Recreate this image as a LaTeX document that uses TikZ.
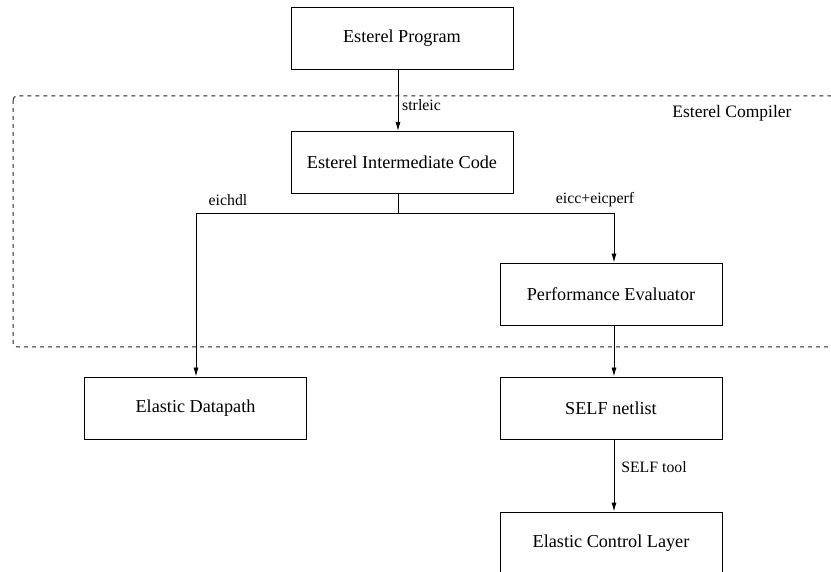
\documentclass[tikz,border=0pt]{standalone}
\usepackage{fontspec}
\setmainfont{Liberation Serif}
\usetikzlibrary{arrows.meta,calc}
\tikzset{
  boxnode/.style={draw, line width=0.9pt, minimum width=222pt, minimum height=62pt, inner sep=0pt, font=\fontsize{18.2}{21}\selectfont},
  lbl/.style={inner sep=0pt, font=\fontsize{15.8}{18}\selectfont},
  conn/.style={line width=0.9pt, -{Latex[length=9pt,width=5pt]}},
  plain/.style={line width=0.9pt},
  region/.style={dash pattern=on 4pt off 4pt, line width=1pt, draw=black!85, rounded corners=4pt}
}
\begin{document}
\begin{tikzpicture}[x=1pt,y=-1pt]
\clip (0,0) rectangle (831,572);
\useasboundingbox (0,0) rectangle (831,572);
\draw[region] (13,96) rectangle (860,347);
\node[inner sep=0pt, font=\fontsize{17.5}{20}\selectfont] (cmp) at (732,113) {Esterel Compiler};
\node[boxnode] (ep) at (402,38.5) {Esterel Program};
\node[boxnode] (eic) at (402,162.5) {Esterel Intermediate Code};
\node[boxnode] (pe) at (611,294) {Performance Evaluator};
\node[boxnode] (ed) at (195.5,408) {Elastic Datapath};
\node[boxnode] (sn) at (611,408) {SELF netlist};
\node[boxnode] (ecl) at (611,543) {Elastic Control Layer};
\coordinate (j) at (398,213);
\coordinate (jl) at (196,213);
\coordinate (jr) at (614,213);
\draw[conn] (ep.south -| j) -- (eic.north -| j);
\draw[plain] (eic.south -| j) -- (j);
\draw[conn] (j) -- (jl) -- (ed.north -| jl);
\draw[conn] (j) -- (jr) -- (pe.north -| jr);
\draw[conn] (pe.south -| jr) -- (sn.north -| jr);
\draw[conn] (sn.south -| jr) -- (ecl.north -| jr);
\node[lbl, anchor=west] (l1) at (402,105) {strleic};
\node[lbl] (l2) at (228,200) {eichdl};
\node[lbl] (l3) at (595,200) {eicc+eicperf};
\node[lbl] (l4) at (654,467) {SELF tool};
\end{tikzpicture}
\end{document}
